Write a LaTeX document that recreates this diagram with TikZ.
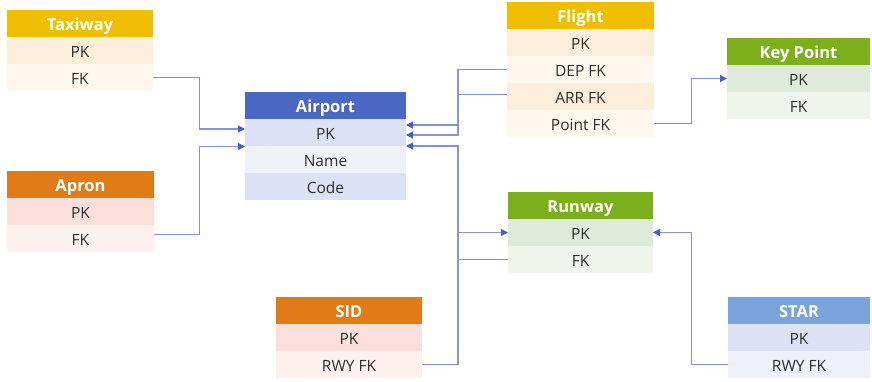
\documentclass[tikz,border=0pt]{standalone}
\usepackage{fontspec}
\setmainfont{Open Sans}
\usetikzlibrary{positioning,arrows.meta}

% header colours
\definecolor{gold}{HTML}{F0BE00}
\definecolor{amber}{HTML}{E07B18}
\definecolor{royal}{HTML}{4A67C4}
\definecolor{leaf}{HTML}{7CAF1C}
\definecolor{sky}{HTML}{7BA3DB}
% field colours (alternating shades)
\definecolor{peachA}{HTML}{FDEEDC}
\definecolor{peachB}{HTML}{FEF7EE}
\definecolor{roseA}{HTML}{FADFDA}
\definecolor{roseB}{HTML}{FDF1EF}
\definecolor{blueA}{HTML}{DDE1F6}
\definecolor{blueB}{HTML}{EEF0FA}
\definecolor{greenA}{HTML}{DEEBDA}
\definecolor{greenB}{HTML}{EFF5ED}
% connectors and text
\definecolor{linkc}{HTML}{8591E4}
\definecolor{tipc}{HTML}{4B5CC6}
\definecolor{ink}{HTML}{2E2E2E}

\tikzset{
  cell/.style={rectangle, inner sep=0pt, outer sep=0pt, minimum height=27pt,
               text height=14pt, text depth=0pt, align=center},
  hdr/.style={cell, text=white, font=\bfseries\fontsize{16.5}{16.5}\selectfont},
  fld/.style={cell, text=ink, font=\fontsize{15.5}{15.5}\selectfont},
  conn/.style={draw=linkc, line width=1.1pt},
  fkarrow/.style={conn, -{Triangle[length=7pt,width=7pt,color=tipc]}},
}

\begin{document}
\begin{tikzpicture}[x=1pt,y=-1pt]
\fill[white] (0,0) rectangle (872,381);
\useasboundingbox (0,0) rectangle (872,381);

% Taxiway
\node[hdr, fill=gold, minimum width=146pt, anchor=north west] (tx) at (7,10) {Taxiway};
\node[fld, fill=peachA, minimum width=146pt, below=0pt of tx] (tx-pk) {PK};
\node[fld, fill=peachB, minimum width=146pt, below=0pt of tx-pk] (tx-fk) {FK};

% Apron
\node[hdr, fill=amber, minimum width=147pt, anchor=north west] (apr) at (7,171) {Apron};
\node[fld, fill=roseA, minimum width=147pt, below=0pt of apr] (apr-pk) {PK};
\node[fld, fill=roseB, minimum width=147pt, below=0pt of apr-pk] (apr-fk) {FK};

% Airport
\node[hdr, fill=royal, minimum width=161pt, anchor=north west] (apt) at (245,92) {Airport};
\node[fld, fill=blueA, minimum width=161pt, below=0pt of apt] (apt-pk) {PK};
\node[fld, fill=blueB, minimum width=161pt, below=0pt of apt-pk] (apt-nm) {Name};
\node[fld, fill=blueA, minimum width=161pt, below=0pt of apt-nm] (apt-cd) {Code};

% Flight
\node[hdr, fill=gold, minimum width=147pt, anchor=north west] (fl) at (507,2) {Flight};
\node[fld, fill=peachA, minimum width=147pt, below=0pt of fl] (fl-pk) {PK};
\node[fld, fill=peachB, minimum width=147pt, below=0pt of fl-pk] (fl-dep) {DEP FK};
\node[fld, fill=peachA, minimum width=147pt, below=0pt of fl-dep] (fl-arr) {ARR FK};
\node[fld, fill=peachB, minimum width=147pt, below=0pt of fl-arr] (fl-pt) {Point FK};

% Key Point
\node[hdr, fill=leaf, minimum width=143pt, anchor=north west] (kp) at (727,38) {Key Point};
\node[fld, fill=greenA, minimum width=143pt, below=0pt of kp] (kp-pk) {PK};
\node[fld, fill=greenB, minimum width=143pt, below=0pt of kp-pk] (kp-fk) {FK};

% Runway
\node[hdr, fill=leaf, minimum width=145pt, anchor=north west] (rw) at (508,192) {Runway};
\node[fld, fill=greenA, minimum width=145pt, below=0pt of rw] (rw-pk) {PK};
\node[fld, fill=greenB, minimum width=145pt, below=0pt of rw-pk] (rw-fk) {FK};

% SID
\node[hdr, fill=amber, minimum width=146pt, anchor=north west] (sid) at (276,297) {SID};
\node[fld, fill=roseA, minimum width=146pt, below=0pt of sid] (sid-pk) {PK};
\node[fld, fill=roseB, minimum width=146pt, below=0pt of sid-pk] (sid-fk) {RWY FK};

% STAR
\node[hdr, fill=sky, minimum width=142pt, anchor=north west] (st) at (728,297) {STAR};
\node[fld, fill=blueA, minimum width=142pt, below=0pt of st] (st-pk) {PK};
\node[fld, fill=blueB, minimum width=142pt, below=0pt of st-pk] (st-fk) {RWY FK};

% vertical trunks of the connectors
\coordinate (trunkL) at (199.5,0);
\coordinate (trunkM) at (458,0);
\coordinate (trunkR) at (691.5,0);

% foreign keys pointing to Airport
\draw[fkarrow] (tx-fk.east) -- (tx-fk.east -| trunkL) |- ([yshift=3.5pt]apt-pk.west);
\coordinate (aprOut) at ([yshift=4pt]apr-fk.east);
\draw[fkarrow] (aprOut) -- (aprOut -| trunkL) |- ([yshift=-14pt]apt-pk.west);

\draw[fkarrow] (fl-dep.west) -- (fl-dep.west -| trunkM) |- ([yshift=-2.5pt]apt-pk.east);
\coordinate (arrOut) at ([yshift=2pt]fl-arr.west);
\draw[fkarrow] (arrOut) -- (arrOut -| trunkM) |- ([yshift=7.5pt]apt-pk.east);

\draw[fkarrow] (sid-fk.east) -- (sid-fk.east -| trunkM) |- ([yshift=-13.5pt]apt-pk.east);
\draw[conn] (rw-fk.west) -- (rw-fk.west -| trunkM);

% foreign keys pointing to Runway
\draw[fkarrow] (sid-fk.east -| trunkM) |- (rw-pk.west);
\draw[fkarrow] (st-fk.west) -- (st-fk.west -| trunkR) |- (rw-pk.east);

% Flight point to Key Point
\draw[fkarrow] (fl-pt.east) -- (fl-pt.east -| trunkR) |- (kp-pk.west);
\end{tikzpicture}
\end{document}
